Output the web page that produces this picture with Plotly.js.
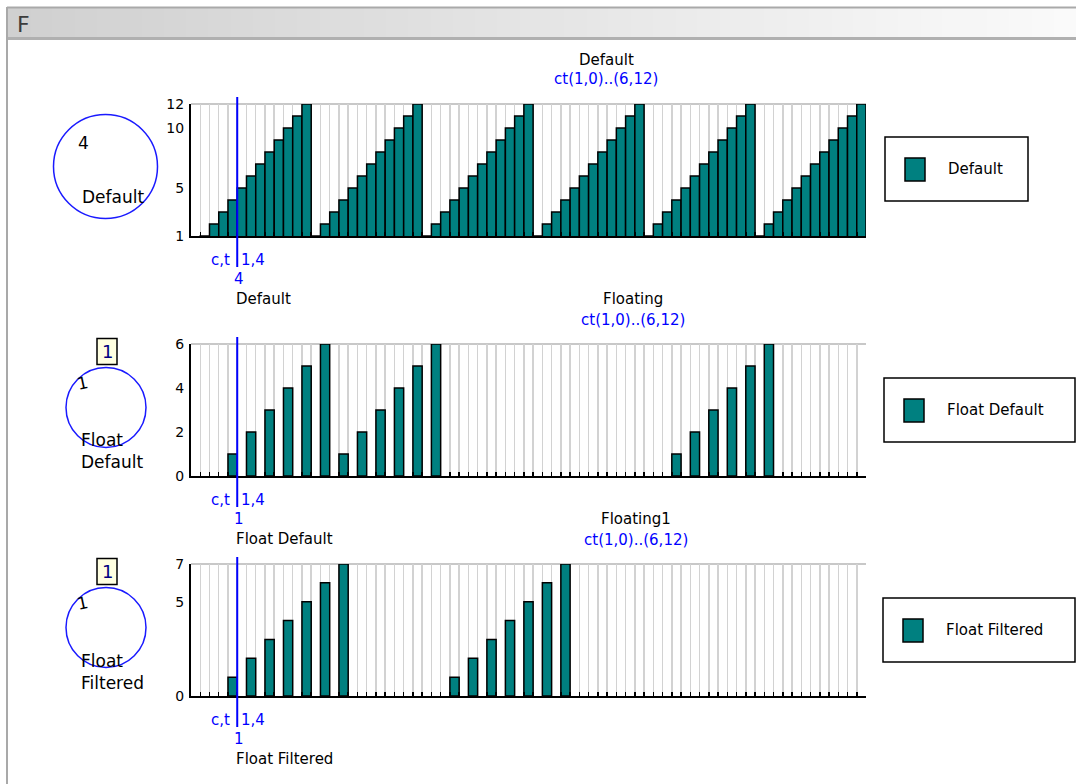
<!DOCTYPE html>
<html>
<head>
<meta charset="utf-8">
<script src="https://cdn.plot.ly/plotly-3.0.1.min.js"></script>
<style>
  html, body { margin: 0; padding: 0; background: #ffffff; }
  #chart { width: 1076px; height: 784px; }
</style>
</head>
<body>
<div id="chart"></div>
<script>
// ---------------- DATA ----------------
const groupIds = [1, 2, 3, 4, 5, 6];
const tickIds = [1, 2, 3, 4, 5, 6, 7, 8, 9, 10, 11, 12];
const categories = ['(1,0)'].concat(groupIds.flatMap(g => tickIds.map(t => '(' + g + ',' + t + ')')));

const seriesNames = ['Default', 'Float Default', 'Float Filtered'];
const chartTitles = ['Default', 'Floating', 'Floating1'];
const rangeLabel = 'ct(1,0)..(6,12)';
const cursorCategory = '(1,4)';
const cursorLabel = 'c,t';
const cursorTickLabel = '1,4';
const cursorValues = ['4', '1', '1'];
const boxValues = [null, '1', '1'];
const circleValues = ['4', '1', '1'];
const circleLabels = ['Default', 'Float<br>Default', 'Float<br>Filtered'];

const defaultValues = [
  null,
  1, 2, 3, 4, 5, 6, 7, 8, 9, 10, 11, 12,
  1, 2, 3, 4, 5, 6, 7, 8, 9, 10, 11, 12,
  1, 2, 3, 4, 5, 6, 7, 8, 9, 10, 11, 12,
  1, 2, 3, 4, 5, 6, 7, 8, 9, 10, 11, 12,
  1, 2, 3, 4, 5, 6, 7, 8, 9, 10, 11, 12,
  1, 2, 3, 4, 5, 6, 7, 8, 9, 10, 11, 12
];
const floatDefaultValues = [
  null,
  null, null, null, 1, null, 2, null, 3, null, 4, null, 5,
  null, 6, null, 1, null, 2, null, 3, null, 4, null, 5,
  null, 6, null, null, null, null, null, null, null, null, null, null,
  null, null, null, null, null, null, null, null, null, null, null, null,
  null, null, null, 1, null, 2, null, 3, null, 4, null, 5,
  null, 6, null, null, null, null, null, null, null, null, null, null
];
const floatFilteredValues = [
  null,
  null, null, null, 1, null, 2, null, 3, null, 4, null, 5,
  null, 6, null, 7, null, null, null, null, null, null, null, null,
  null, null, null, 1, null, 2, null, 3, null, 4, null, 5,
  null, 6, null, 7, null, null, null, null, null, null, null, null,
  null, null, null, null, null, null, null, null, null, null, null, null,
  null, null, null, null, null, null, null, null, null, null, null, null
];
const seriesValues = [defaultValues, floatDefaultValues, floatFilteredValues];

const yRanges = [[1, 12], [0, 6], [0, 7]];
const yTicks = [[1, 5, 10, 12], [0, 2, 4, 6], [0, 5, 7]];

// ---------------- LAYOUT HELPERS ----------------
const W = 1076, H = 784;
const px = x => x / W;
const py = y => 1 - y / H;

const TEAL = '#008080';
const BLUE = '#0000ff';
const FONT = 'DejaVu Sans, Verdana, sans-serif';

const plotLeft = 191, plotRight = 866;
const panelTops = [104, 344, 564];
const panelH = 132;
const titleY = [[60, 79], [299, 320], [519, 540]];
const titleX = [606, 633, 636];
const legendBoxes = [[885, 137, 1028, 201], [884, 378, 1075, 442], [883, 598, 1075, 662]];
const circles = [[105.5, 166.5, 52], [106, 407.5, 40], [106, 627.5, 40]];

const data = [];
const shapes = [];
const annotations = [];
const layout = {
  width: W, height: H, autosize: false,
  margin: {l: 0, r: 0, t: 0, b: 0, pad: 0},
  paper_bgcolor: '#ffffff', plot_bgcolor: '#ffffff',
  showlegend: false, bargap: 0,
  font: {family: FONT, size: 16, color: '#000000'}
};

// window frame: gradient title bar
const stripes = 48;
for (let i = 0; i < stripes; i++) {
  const t = i / (stripes - 1);
  const c = Math.round(208 + (250 - 208) * t);
  const x0 = 8 + (W - 8) * i / stripes, x1 = 8 + (W - 8) * (i + 1) / stripes + 1;
  shapes.push({type: 'rect', xref: 'paper', yref: 'paper', x0: px(x0), x1: px(x1), y0: py(8), y1: py(38),
    fillcolor: 'rgb(' + c + ',' + c + ',' + c + ')', line: {width: 0}, layer: 'below'});
}
shapes.push({type: 'line', xref: 'paper', yref: 'paper', x0: px(7), x1: 1, y0: py(7.5), y1: py(7.5), line: {color: '#a9a9a9', width: 2}});
shapes.push({type: 'line', xref: 'paper', yref: 'paper', x0: px(7), x1: 1, y0: py(38.5), y1: py(38.5), line: {color: '#b0b0b0', width: 3}});
shapes.push({type: 'line', xref: 'paper', yref: 'paper', x0: px(7), x1: px(7), y0: py(7), y1: 0, line: {color: '#a9a9a9', width: 2}});
annotations.push({xref: 'paper', yref: 'paper', x: px(15), y: py(25), xanchor: 'left', yanchor: 'middle',
  text: 'F', showarrow: false, font: {family: FONT, size: 22, color: '#3c3c3c'}});

for (let k = 0; k < 3; k++) {
  const sfx = k === 0 ? '' : String(k + 1);
  const xa = 'xaxis' + sfx, ya = 'yaxis' + sfx;
  const xr = 'x' + sfx, yr = 'y' + sfx;
  const top = panelTops[k], bot = panelTops[k] + panelH;

  data.push({
    type: 'bar', x: categories, y: seriesValues[k], name: seriesNames[k],
    xaxis: xr, yaxis: yr,
    marker: {color: TEAL, line: {color: '#000000', width: 1.5}},
    hoverinfo: 'skip'
  });

  layout[xa] = {
    domain: [px(plotLeft), px(plotRight)], anchor: yr,
    type: 'category', categoryorder: 'array', categoryarray: categories,
    range: [-0.5, categories.length - 0.5],
    tickmode: 'linear', tick0: 0, dtick: 1, tickson: 'boundaries',
    ticks: 'inside', ticklen: 4, tickwidth: 1.5, tickcolor: '#000000',
    showticklabels: false,
    showgrid: true, gridcolor: '#d2d2d2', gridwidth: 1.5,
    showline: true, linecolor: '#000000', linewidth: 2,
    zeroline: false, fixedrange: true
  };
  layout[ya] = {
    domain: [py(bot), py(top)], anchor: xr,
    range: yRanges[k], tickmode: 'array', tickvals: yTicks[k],
    ticks: '', showgrid: false, zeroline: false,
    showline: true, linecolor: '#000000', linewidth: 2,
    tickfont: {family: FONT, size: 14, color: '#000000'},
    ticklabelstandoff: 2, fixedrange: true
  };

  shapes.push({type: 'line', xref: xr + ' domain', yref: yr + ' domain', x0: 0, x1: 1, y0: 1, y1: 1,
    line: {color: '#c8c8c8', width: 2}, layer: 'below'});

  const ci = categories.indexOf(cursorCategory) + 0.5;
  shapes.push({type: 'line', xref: xr, yref: 'paper', x0: ci, x1: ci, y0: py(top - 7), y1: py(bot + 31),
    line: {color: BLUE, width: 2}});

  annotations.push({xref: 'paper', yref: 'paper', x: px(titleX[k]), y: py(titleY[k][0]), xanchor: 'center', yanchor: 'middle',
    text: chartTitles[k], showarrow: false, font: {family: FONT, size: 15, color: '#000000'}});
  annotations.push({xref: 'paper', yref: 'paper', x: px(titleX[k]), y: py(titleY[k][1]), xanchor: 'center', yanchor: 'middle',
    text: rangeLabel, showarrow: false, font: {family: FONT, size: 15, color: BLUE}});

  annotations.push({xref: 'paper', yref: 'paper', x: px(232), y: py(bot + 24), xanchor: 'right', yanchor: 'middle',
    text: cursorLabel, showarrow: false, font: {family: FONT, size: 15, color: BLUE}});
  annotations.push({xref: 'paper', yref: 'paper', x: px(239), y: py(bot + 24), xanchor: 'left', yanchor: 'middle',
    text: cursorTickLabel, showarrow: false, font: {family: FONT, size: 15, color: BLUE}});
  annotations.push({xref: 'paper', yref: 'paper', x: px(239), y: py(bot + 43), xanchor: 'center', yanchor: 'middle',
    text: cursorValues[k], showarrow: false, font: {family: FONT, size: 15, color: BLUE}});
  annotations.push({xref: 'paper', yref: 'paper', x: px(234), y: py(bot + 63), xanchor: 'left', yanchor: 'middle',
    text: seriesNames[k], showarrow: false, font: {family: FONT, size: 15, color: '#000000'}});

  const [cx, cy, r] = circles[k];
  shapes.push({type: 'circle', xref: 'paper', yref: 'paper', x0: px(cx - r), x1: px(cx + r), y0: py(cy + r), y1: py(cy - r),
    line: {color: '#1a1aff', width: 1.5}});
  if (k === 0) {
    annotations.push({xref: 'paper', yref: 'paper', x: px(83), y: py(143), xanchor: 'center', yanchor: 'middle',
      text: circleValues[k], showarrow: false, font: {family: FONT, size: 17, color: '#000000'}});
    annotations.push({xref: 'paper', yref: 'paper', x: px(113), y: py(197), xanchor: 'center', yanchor: 'middle',
      text: circleLabels[k], showarrow: false, font: {family: FONT, size: 17, color: '#000000'}});
  } else {
    annotations.push({xref: 'paper', yref: 'paper', x: px(82), y: py(cy - 25), xanchor: 'center', yanchor: 'middle',
      text: circleValues[k], showarrow: false, textangle: -12, font: {family: FONT, size: 17, color: '#000000'}});
    annotations.push({xref: 'paper', yref: 'paper', x: px(79), y: py(cy + 44), xanchor: 'left', yanchor: 'middle',
      text: circleLabels[k], align: 'left', showarrow: false, font: {family: FONT, size: 17, color: '#000000'}});
    shapes.push({type: 'rect', xref: 'paper', yref: 'paper', x0: px(97), x1: px(117), y0: py(cy - 43), y1: py(cy - 69),
      fillcolor: '#ffffe1', line: {color: '#000000', width: 1.5}});
    annotations.push({xref: 'paper', yref: 'paper', x: px(107), y: py(cy - 56), xanchor: 'center', yanchor: 'middle',
      text: boxValues[k], showarrow: false, font: {family: FONT, size: 18, color: '#000080'}});
  }

  const [lx0, ly0, lx1, ly1] = legendBoxes[k];
  shapes.push({type: 'rect', xref: 'paper', yref: 'paper', x0: px(lx0), x1: px(lx1), y0: py(ly1), y1: py(ly0),
    fillcolor: '#ffffff', line: {color: '#000000', width: 1.5}});
  const lmid = (ly0 + ly1) / 2;
  shapes.push({type: 'rect', xref: 'paper', yref: 'paper', x0: px(lx0 + 20), x1: px(lx0 + 40), y0: py(lmid + 12), y1: py(lmid - 11),
    fillcolor: TEAL, line: {color: '#000000', width: 1.5}});
  annotations.push({xref: 'paper', yref: 'paper', x: px(lx0 + 61), y: py(lmid), xanchor: 'left', yanchor: 'middle',
    text: seriesNames[k], showarrow: false, font: {family: FONT, size: 15, color: '#000000'}});
}

layout.shapes = shapes;
layout.annotations = annotations;

Plotly.newPlot('chart', data, layout, {displayModeBar: false, staticPlot: true});
</script>
</body>
</html>
